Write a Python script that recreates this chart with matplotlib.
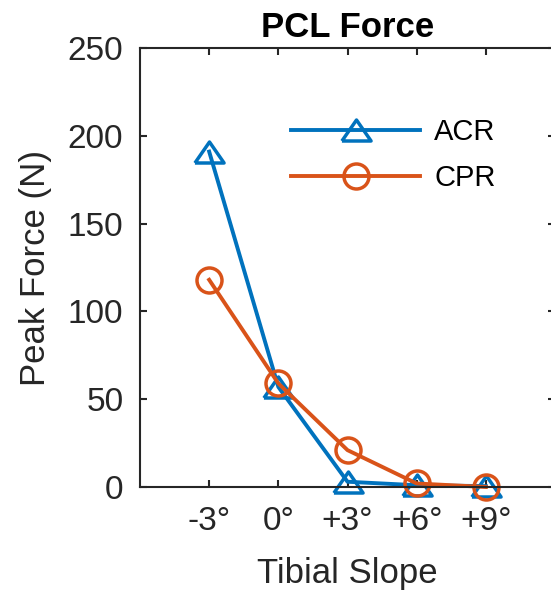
import matplotlib
matplotlib.use("Agg")
import matplotlib.pyplot as plt

categories = ["-3°", "0°", "+3°", "+6°", "+9°"]
acr = [191, 57, 3, 1, 0.5]
cpr = [118, 59, 21, 2, 0]
yticks = [0, 50, 100, 150, 200, 250]

plt.rcParams['font.family'] = ['Liberation Sans', 'DejaVu Sans']
fig = plt.figure(figsize=(5.51, 5.96), dpi=100)
ax = fig.add_axes([140/551, 1-487/596, (555-140)/551, (487-48)/596])

xs = list(range(1, len(categories)+1))
c1 = '#0072BD'
c2 = '#D95319'
tri = [(-1, -0.72), (1, -0.72), (0, 0.72), (-1, -0.72)]
ax.plot(xs, acr, color=c1, lw=2.8, marker=tri, ms=21, mfc='none', mew=2.5, label='ACR', clip_on=False)
ax.plot(xs, cpr, color=c2, lw=2.8, marker='o', ms=18, mfc='none', mew=2.5, label='CPR', clip_on=False)

ax.set_xlim(0, 6)
ax.set_ylim(0, 250)
ax.set_xticks(xs)
ax.set_xticklabels(categories)
ax.set_yticks(yticks)
axcol = '#262626'
for s in ax.spines.values():
    s.set_color(axcol)
    s.set_linewidth(1.5)
ax.tick_params(direction='in', length=5, width=1.5, colors=axcol, labelsize=24,
               top=True, right=True)
ax.tick_params(axis='y', pad=12)
ax.tick_params(axis='x', pad=14)
ax.set_xlabel('Tibial Slope', fontsize=25, color=axcol, labelpad=14)
ax.set_ylabel('Peak Force (N)', fontsize=25, color=axcol, labelpad=11)
ax.set_title('PCL Force', fontsize=25, fontweight='bold', color='black', pad=8)

leg = ax.legend(loc='upper left', bbox_to_anchor=((290-140)/415 - 0.06, (487-92)/439),
                frameon=False, fontsize=21, handlelength=4.4, handletextpad=0.5,
                labelspacing=0.62)
for t in leg.get_texts():
    t.set_color('black')

fig.savefig('out.png', dpi=100)
